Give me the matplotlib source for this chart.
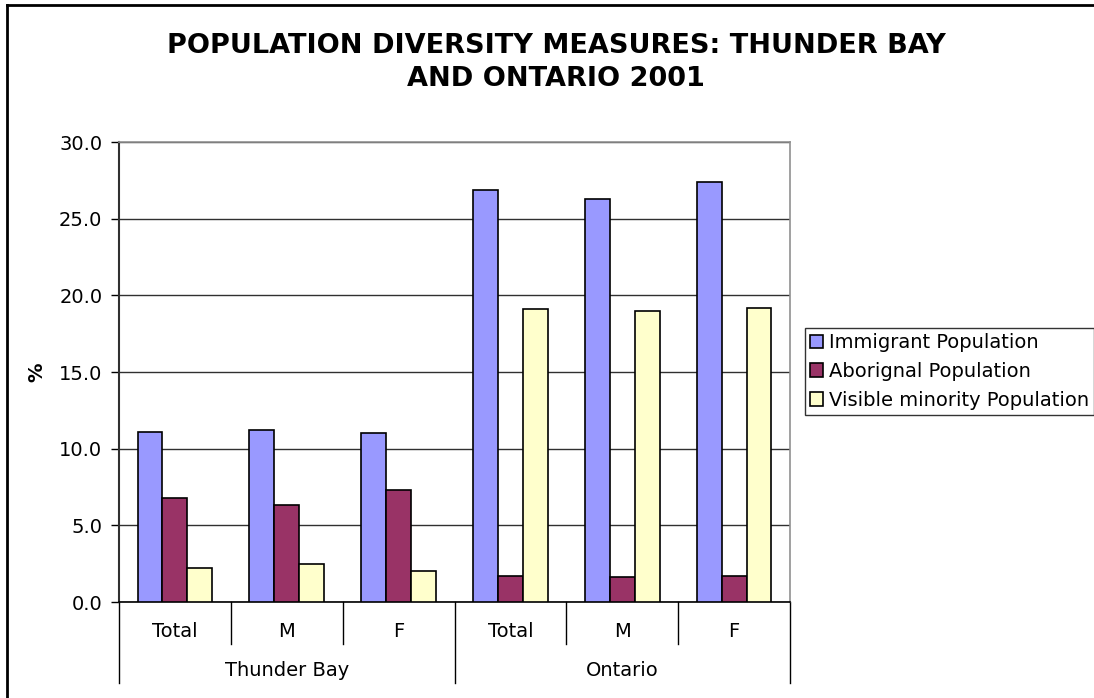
import matplotlib
matplotlib.use("Agg")
import matplotlib.pyplot as plt
from matplotlib.lines import Line2D
import matplotlib.transforms as mtransforms
import numpy as np

categories = ["Total", "M", "F", "Total", "M", "F"]
groups = ["Thunder Bay", "Ontario"]
series_names = ["Immigrant Population", "Aborignal Population", "Visible minority Population"]
immigrant = [11.1, 11.2, 11.0, 26.9, 26.3, 27.4]
aboriginal = [6.8, 6.3, 7.3, 1.7, 1.6, 1.7]
visible = [2.2, 2.5, 2.0, 19.1, 19.0, 19.2]
colors = ["#9999FF", "#993366", "#FFFFCC"]
yticks = [0.0, 5.0, 10.0, 15.0, 20.0, 25.0, 30.0]

W, H = 1094, 698
fig = plt.figure(figsize=(W / 100, H / 100), dpi=100)
plt.rcParams['font.family'] = ['DejaVu Sans']
FS = 14

ax = fig.add_axes([119 / W, 1 - 602 / H, (790 - 119) / W, (602 - 142) / H])

x = np.arange(len(categories))
bw = 1 / 4.5
series = [immigrant, aboriginal, visible]
for i, (vals, c, name) in enumerate(zip(series, colors, series_names)):
    ax.bar(x + (i - 1) * bw, vals, width=bw, color=c, edgecolor="black",
           linewidth=1.2, label=name, zorder=3)

ax.set_xlim(-0.5, len(categories) - 0.5)
ax.set_ylim(0, 30)
ax.set_yticks(yticks)
ax.set_yticklabels([f"{v:.1f}" for v in yticks], fontsize=FS)
ax.tick_params(axis="y", direction="out", length=6, width=1, pad=6)
ax.set_xticks([])
ax.yaxis.grid(True, color="#303030", linewidth=1, zorder=0)
ax.set_axisbelow(True)
for s in ["top", "right"]:
    ax.spines[s].set_color("#909090")
    ax.spines[s].set_linewidth(1.2)
ax.spines["left"].set_color("#303030")
ax.spines["left"].set_linewidth(1.5)
ax.spines["bottom"].set_color("black")
ax.spines["bottom"].set_linewidth(1.2)

ax.set_ylabel("%", fontsize=FS, fontweight="bold")
ax.yaxis.set_label_coords(-0.108, 0.5)

trans = mtransforms.blended_transform_factory(ax.transData, ax.transAxes)
for i, c in enumerate(categories):
    ax.text(i, -0.065, c, transform=trans, ha="center", va="center", fontsize=FS)
n = len(categories)
per = n // len(groups)
for b in range(n + 1):
    xb = b - 0.5
    depth = -0.176 if b % per == 0 else -0.0913
    ax.add_line(Line2D([xb, xb], [0, depth], transform=trans, color="black",
                       linewidth=1, clip_on=False))
for g, name in enumerate(groups):
    xc = g * per + (per - 1) / 2
    ax.text(xc, -0.15, name, transform=trans, ha="center", va="center", fontsize=FS)

fig.text(556 / W, 1 - 53 / H, "POPULATION DIVERSITY MEASURES: THUNDER BAY",
         ha="center", va="baseline", fontsize=19.5, fontweight="bold")
fig.text(556 / W, 1 - 86 / H, "AND ONTARIO 2001",
         ha="center", va="baseline", fontsize=19.5, fontweight="bold")

leg = fig.legend(loc="center left", bbox_to_anchor=(805 / W, 1 - 371.5 / H),
                 fontsize=FS, frameon=True, fancybox=False, edgecolor="black",
                 handlelength=0.7, handleheight=0.7, handletextpad=0.3,
                 borderpad=0.25, labelspacing=0.5, borderaxespad=0)
leg.get_frame().set_linewidth(1)

fig.add_artist(Line2D([7 / W, 1.0], [1 - 5 / H, 1 - 5 / H], transform=fig.transFigure,
                      color="black", linewidth=2))
fig.add_artist(Line2D([7 / W, 7 / W], [0, 1 - 5 / H], transform=fig.transFigure,
                      color="black", linewidth=2))

fig.savefig("out.png", dpi=100, facecolor="white")
